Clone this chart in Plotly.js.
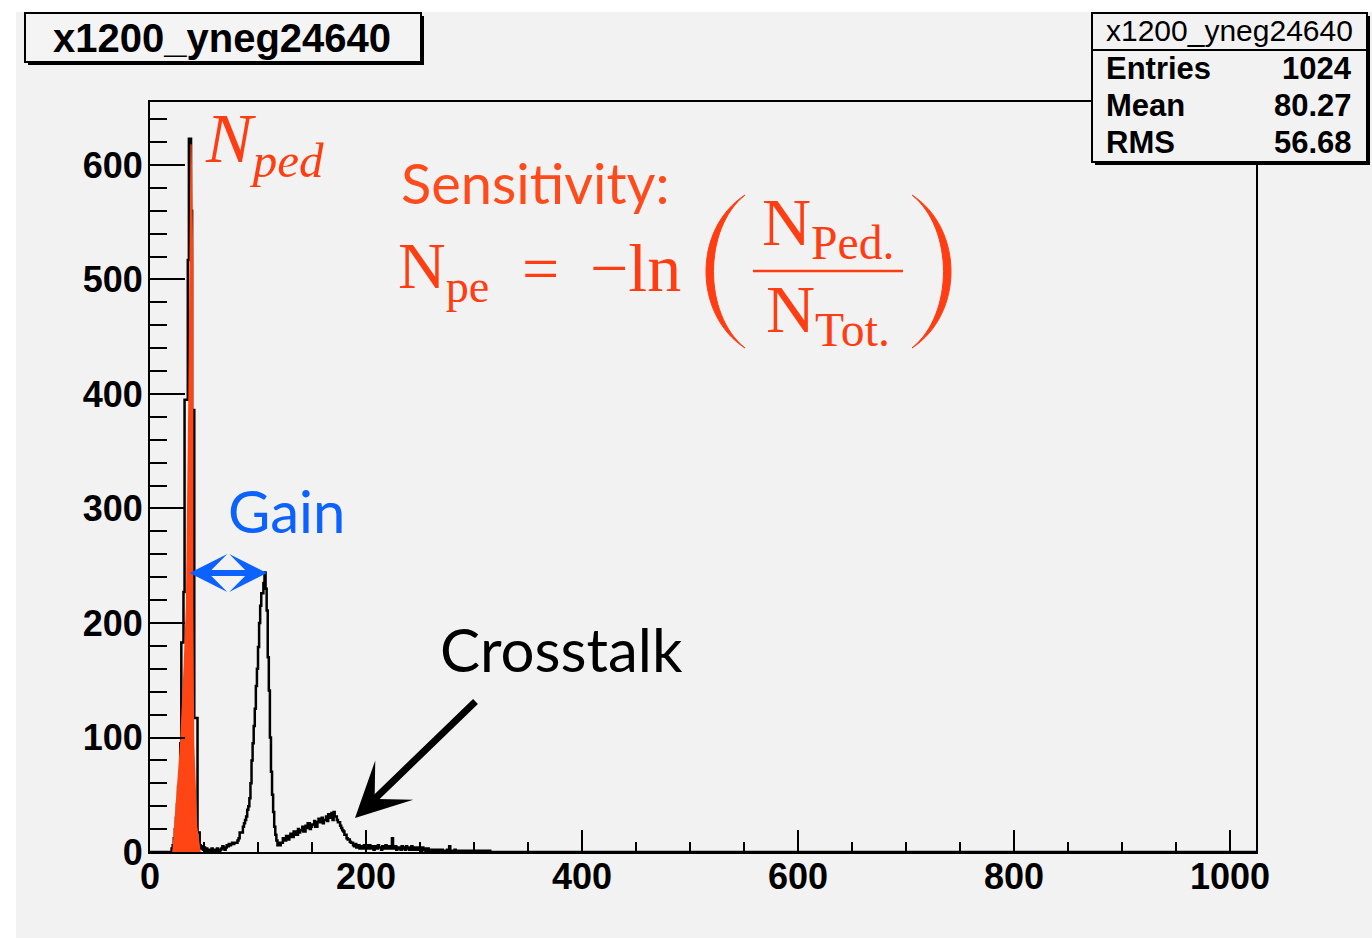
<!DOCTYPE html>
<html>
<head>
<meta charset="utf-8">
<script src="https://cdn.plot.ly/plotly-3.0.1.min.js"></script>
<style>html,body{margin:0;padding:0;background:#fff;}#chart{width:1372px;height:938px;}</style>
</head>
<body>
<div id="chart"></div>
<script>
// ---------------- data ----------------
const histTitle = "x1200_yneg24640";
const binLow = 20;          // left edge of first listed bin
const binWidth = 1;
const xMax = 1024;
const counts = [
  3, 6, 12, 20, 30, 42, 57, 57, 95, 183,
  183, 227, 395, 395, 395, 517, 623, 623, 560, 386,
  386, 117, 117, 117, 17, 17, 6, 3, 5, 2,
  4, 1, 3, 0, 2, 1, 2, 3, 1, 0,
  2, 1, 3, 2, 1, 2, 3, 5, 3, 2,
  4, 6, 5, 7, 6, 7, 8, 7, 8, 8,
  8, 10, 12, 17, 17, 17, 22, 25, 28, 31,
  37, 40, 47, 60, 80, 95, 110, 125, 145, 160,
  179, 200, 215, 226, 226, 235, 244, 230, 211, 170,
  141, 100, 70, 50, 35, 22, 15, 10, 6, 8,
  6, 8, 8, 12, 12, 10, 14, 14, 11, 13,
  16, 16, 13, 18, 18, 15, 15, 20, 17, 19,
  19, 22, 18, 18, 23, 21, 25, 25, 20, 22,
  24, 24, 27, 22, 22, 26, 29, 26, 26, 30,
  25, 28, 28, 31, 27, 33, 30, 30, 34, 28,
  35, 31, 31, 28, 26, 26, 23, 21, 19, 18,
  15, 15, 12, 11, 11, 9, 8, 8, 6, 5,
  7, 4, 4, 6, 3, 5, 5, 3, 6, 4,
  5, 3, 6, 6, 3, 4, 5, 2, 5, 4,
  3, 6, 4, 4, 2, 5, 3, 3, 6, 4,
  3, 5, 5, 3, 12, 3, 4, 5, 2, 4,
  3, 4, 2, 5, 3, 4, 2, 5, 3, 4,
  2, 3, 5, 2, 4, 3, 2, 4, 3, 2,
  3, 1, 4, 2, 3, 1, 2, 3, 1, 2,
  1, 2, 0, 1, 2, 0, 1, 2, 0, 1,
  2, 1, 0, 1, 0, 2, 0, 5, 1, 0,
  1, 0, 2, 0, 1, 0, 1, 0, 0, 1,
  0, 1, 0, 0, 1, 0, 0, 1, 0, 0,
  1, 0, 0, 1, 0, 0, 1, 0, 0, 1,
  0, 0, 1, 0, 1, 0
];
// red highlighted pedestal outline
const pedX = [20.6, 24.5, 27.8, 31.0, 33.2, 35.5, 36.4, 37.4, 38.6, 40.1, 40.1, 40.1, 41.0, 43.8, 47.0];
const pedY = [0, 50, 95, 160, 215, 400, 517, 618, 618, 517, 400, 215, 95, 22, 0];

const statLabels = ["Entries", "Mean", "RMS"];
const statValues = ["1024", "80.27", "56.68"];

const xTick = {range: [0, 1024], dtick: 200, minor: 50};
const yTick = {range: [0, 655], dtick: 100, minor: 20};

// ---------------- build histogram outline ----------------
const hx = [0, binLow], hy = [0, 0];
counts.forEach((c, i) => { hx.push(binLow + i * binWidth); hy.push(c); });
hx.push(binLow + counts.length * binWidth); hy.push(0);
hx.push(xMax); hy.push(0);

// ---------------- geometry helpers (pixel -> paper) ----------------
const W = 1372, H = 938, L = 150, R = 1256, T = 102, B = 852;
const px = v => (v - L) / (R - L);
const py = v => (B - v) / (B - T);

const RED = '#ff3d12', RED2 = '#ff4a1c', BLUE = '#0b62ff';
const SANS = 'Liberation Sans, Arial, sans-serif';
const HUM = 'Lato, Open Sans, sans-serif';
const SERIF = 'Liberation Serif, Times New Roman, serif';

function parenPath(xEnd, xOut, xIn, yTop, yBot) {
  const h = yBot - yTop;
  const P = (x, y) => px(x).toFixed(5) + ',' + py(y).toFixed(5);
  return 'M' + P(xEnd, yTop) +
    ' C' + P(xOut, yTop + 0.22 * h) + ' ' + P(xOut, yBot - 0.22 * h) + ' ' + P(xEnd, yBot) +
    ' C' + P(xIn, yBot - 0.22 * h) + ' ' + P(xIn, yTop + 0.22 * h) + ' ' + P(xEnd, yTop) + ' Z';
}

const traces = [
  {x: hx, y: hy, type: 'scatter', mode: 'lines', line: {shape: 'hv', color: '#000', width: 2.5}, hoverinfo: 'skip'},
  {x: pedX, y: pedY, type: 'scatter', mode: 'lines', fill: 'toself', fillcolor: '#ff4513', line: {width: 0, color: '#ff4513'}, hoverinfo: 'skip'}
];

const shapes = [
  // page background
  {type: 'rect', xref: 'paper', yref: 'paper', x0: px(16), x1: px(1372), y0: py(12), y1: py(938), fillcolor: '#f2f2f2', line: {width: 0}, layer: 'below'},
  // title box with shadow
  {type: 'rect', xref: 'paper', yref: 'paper', x0: px(28), x1: px(424), y0: py(16), y1: py(65), fillcolor: '#000', line: {width: 0}},
  {type: 'rect', xref: 'paper', yref: 'paper', x0: px(25), x1: px(421), y0: py(13), y1: py(62), fillcolor: '#f4f4f4', line: {width: 2, color: '#000'}},
  // stats box with shadow
  {type: 'rect', xref: 'paper', yref: 'paper', x0: px(1095), x1: px(1370), y0: py(16), y1: py(165), fillcolor: '#000', line: {width: 0}},
  {type: 'rect', xref: 'paper', yref: 'paper', x0: px(1092), x1: px(1367), y0: py(13), y1: py(162), fillcolor: '#f2f2f2', line: {width: 2, color: '#000'}},
  {type: 'line', xref: 'paper', yref: 'paper', x0: px(1092), x1: px(1367), y0: py(50), y1: py(50), line: {width: 2, color: '#000'}},
  // formula parentheses and fraction bar
  {type: 'path', xref: 'paper', yref: 'paper', path: parenPath(745, 693, 703, 195, 348), fillcolor: RED, line: {width: 1, color: RED}},
  {type: 'path', xref: 'paper', yref: 'paper', path: parenPath(912, 964, 954, 195, 348), fillcolor: RED, line: {width: 1, color: RED}},
  {type: 'line', xref: 'paper', yref: 'paper', x0: px(753), x1: px(903), y0: py(271), y1: py(271), line: {width: 2.5, color: RED}}
];

function txt(text, x, y, size, color, family, xanchor, extra) {
  return Object.assign({xref: 'paper', yref: 'paper', x: px(x), y: py(y), text: text, showarrow: false,
    xanchor: xanchor || 'center', yanchor: 'middle', font: {size: size, color: color, family: family}}, extra || {});
}

const annotations = [
  txt('<b>' + histTitle + '</b>', 222, 38, 40, '#000', SANS),
  txt(histTitle, 1229, 31, 30, '#000', SANS),
  txt('<i>N<sub>ped</sub></i>', 203, 144, 70, RED, SERIF, 'left'),
  txt('Sensitivity:', 399, 182, 56, RED2, HUM, 'left'),
  txt('N<sub>pe</sub>', 396, 270, 66, RED, SERIF, 'left'),
  txt('=', 540, 268, 66, RED, SERIF),
  txt('\u2212ln', 588, 268, 68, RED, SERIF, 'left'),
  txt('N<sub>Ped.</sub>', 828, 227, 68, RED, SERIF),
  txt('N<sub>Tot.</sub>', 828, 313, 68, RED, SERIF),
  txt('Gain', 226, 510, 58, BLUE, HUM, 'left'),
  txt('Crosstalk', 438, 649, 60, '#000', HUM, 'left'),
  // gain double arrow
  {xref: 'paper', yref: 'paper', x: px(267), y: py(573), ax: -79, ay: 0, text: '', showarrow: true,
   arrowhead: 3, startarrowhead: 3, arrowside: 'end+start', arrowsize: 1.05, startarrowsize: 1.05, arrowwidth: 6, arrowcolor: BLUE, standoff: 0, startstandoff: 0},
  // crosstalk arrow
  {xref: 'paper', yref: 'paper', x: px(355), y: py(818), ax: 122, ay: -118, text: '', showarrow: true,
   arrowhead: 3, arrowsize: 1.3, arrowwidth: 7, arrowcolor: '#000', standoff: 0}
];
statLabels.forEach((s, i) => {
  const yy = [68, 106, 143][i];
  annotations.push(txt('<b>' + s + '</b>', 1104, yy, 31, '#000', SANS, 'left'));
  annotations.push(txt('<b>' + statValues[i] + '</b>', 1354, yy, 31, '#000', SANS, 'right'));
});

const axisCommon = {
  showline: true, linewidth: 2, linecolor: '#000', mirror: true,
  showgrid: false, zeroline: false, ticks: 'inside', tickwidth: 2, tickcolor: '#000',
  tickfont: {family: SANS, size: 36, color: '#000', weight: 'bold'}, fixedrange: true
};

const layout = {
  width: W, height: H,
  margin: {l: L, r: W - R, t: T, b: H - B, pad: 0},
  paper_bgcolor: '#ffffff', plot_bgcolor: 'rgba(0,0,0,0)',
  showlegend: false,
  xaxis: Object.assign({}, axisCommon, {range: xTick.range, tick0: 0, dtick: xTick.dtick, ticklen: 22, ticklabelstandoff: -8,
    minor: {dtick: xTick.minor, tick0: 0, ticks: 'inside', ticklen: 10, tickwidth: 2, tickcolor: '#000', showgrid: false}}),
  yaxis: Object.assign({}, axisCommon, {range: yTick.range, tick0: 0, dtick: yTick.dtick, ticklen: 35, ticklabelstandoff: -2,
    minor: {dtick: yTick.minor, tick0: 0, ticks: 'inside', ticklen: 17, tickwidth: 2, tickcolor: '#000', showgrid: false}}),
  shapes: shapes,
  annotations: annotations
};

Plotly.newPlot('chart', traces, layout, {displayModeBar: false, staticPlot: true});
</script>
</body>
</html>
